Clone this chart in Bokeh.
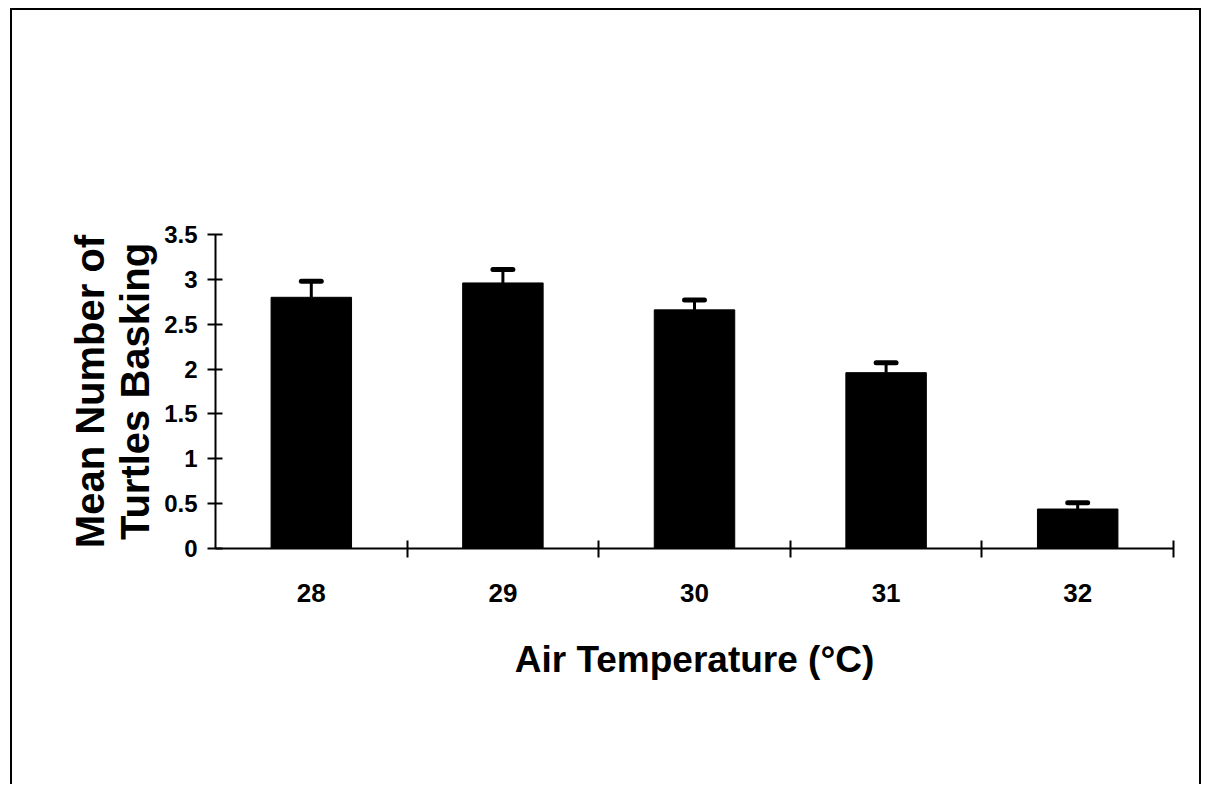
from bokeh.plotting import figure
from bokeh.models import Range1d, FixedTicker, CustomJSTickFormatter
from bokeh.embed import file_html
from bokeh.resources import INLINE

# Data
temperatures = ["28", "29", "30", "31", "32"]
mean_basking = [2.80, 2.96, 2.66, 1.96, 0.44]
upper_error = [2.98, 3.11, 2.77, 2.07, 0.51]
y_ticks = [0, 0.5, 1, 1.5, 2, 2.5, 3, 3.5]

x_pos = [i + 0.5 for i in range(len(temperatures))]
bar_width = 0.42
cap_half = 0.052

p = figure(width=1191, height=776, output_backend="svg", toolbar_location=None,
           x_range=Range1d(0, len(temperatures)), y_range=Range1d(0, 3.5),
           min_border_left=203, min_border_right=30, min_border_top=224,
           min_border_bottom=238)
p.styles = {"margin-left": "10px", "margin-top": "8px",
            "border-left": "2px solid black", "border-top": "2px solid black",
            "border-right": "2px solid black"}
p.background_fill_color = "white"
p.border_fill_color = "white"
p.outline_line_color = None
p.xgrid.visible = False
p.ygrid.visible = False

p.vbar(x=x_pos, top=mean_basking, width=bar_width, bottom=0,
       fill_color="black", line_color="black")
p.segment(x0=x_pos, y0=mean_basking, x1=x_pos, y1=upper_error,
          line_color="black", line_width=3)
p.segment(x0=[x - cap_half for x in x_pos], y0=upper_error,
          x1=[x + cap_half for x in x_pos], y1=upper_error,
          line_color="black", line_width=5, line_cap="round")

font = "Liberation Sans"

xa = p.xaxis[0]
xa.ticker = FixedTicker(ticks=x_pos, minor_ticks=[1, 2, 3, 4, 5])
xa.formatter = CustomJSTickFormatter(args=dict(labels=temperatures),
                                     code="return labels[Math.floor(tick)];")
xa.major_tick_line_color = None
xa.minor_tick_in = 8
xa.minor_tick_out = 9
xa.minor_tick_line_width = 2
xa.minor_tick_line_color = "black"
xa.axis_line_width = 2
xa.axis_line_color = "black"
xa.major_label_text_font = font
xa.major_label_text_font_style = "bold"
xa.major_label_text_font_size = "26px"
xa.major_label_text_color = "black"
xa.major_label_standoff = 26
xa.axis_label = "Air Temperature (°C)"
xa.axis_label_text_font = font
xa.axis_label_text_font_style = "bold"
xa.axis_label_text_font_size = "37px"
xa.axis_label_text_color = "black"
xa.axis_label_standoff = 34

ya = p.yaxis[0]
ya.ticker = FixedTicker(ticks=y_ticks, minor_ticks=[])
ya.formatter = CustomJSTickFormatter(code="return tick.toString();")
ya.major_tick_in = 7
ya.major_tick_out = 8
ya.major_tick_line_width = 2
ya.major_tick_line_color = "black"
ya.axis_line_width = 2
ya.axis_line_color = "black"
ya.major_label_text_font = font
ya.major_label_text_font_style = "bold"
ya.major_label_text_font_size = "24px"
ya.major_label_text_color = "black"
ya.major_label_standoff = 10
ya.axis_label = "Mean Number of\nTurtles Basking"
ya.axis_label_text_font = font
ya.axis_label_text_font_style = "bold"
ya.axis_label_text_font_size = "40px"
ya.axis_label_text_line_height = 1.02
ya.axis_label_text_color = "black"
ya.axis_label_standoff = 4

open("out.html", "w").write(file_html(p, INLINE))
